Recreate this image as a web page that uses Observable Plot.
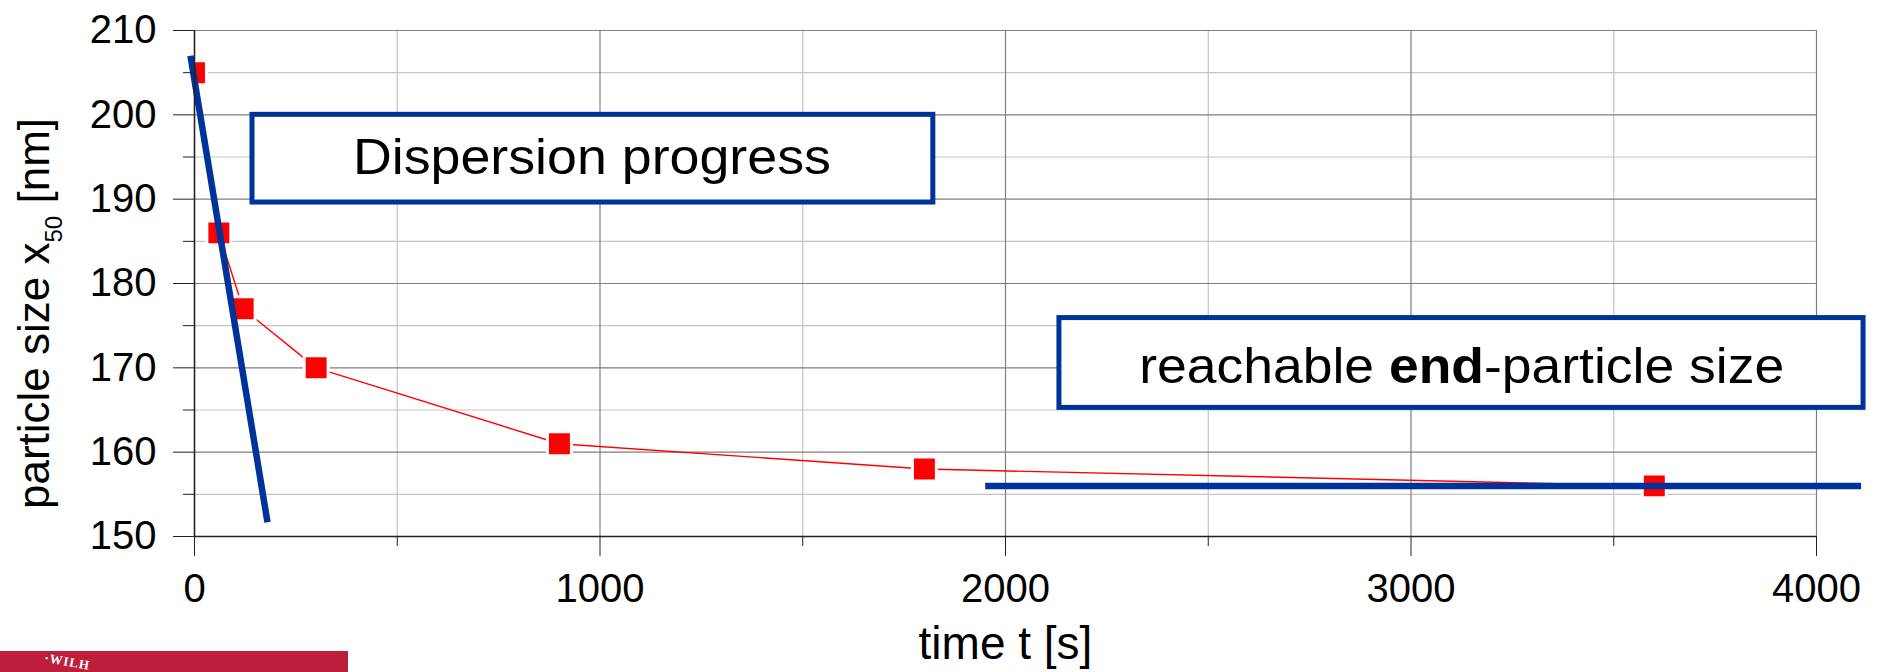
<!DOCTYPE html>
<html><head><meta charset="utf-8">
<script src="https://cdn.jsdelivr.net/npm/d3@7"></script>
<script src="https://cdn.jsdelivr.net/npm/@observablehq/plot@0.6"></script>
<style>
body{margin:0;background:#fff;}
#wrap{position:relative;width:1879px;height:672px;overflow:hidden;}
#logo{position:absolute;left:0;top:651px;width:348px;height:21px;background:#bc1e3c;overflow:hidden;}
#logo span{position:absolute;left:44px;top:3px;color:#fff;font:bold 13px "Liberation Serif",serif;letter-spacing:1px;transform:rotate(10deg);}
</style></head><body><div id="wrap"><div id="logo"><span>·WILH</span></div></div>
<script>
// measured series: dispersion time vs particle size
const time = [0, 60, 120, 300, 900, 1800, 3600];
const size = [205, 186, 177, 170, 161, 158, 156];
// trend lines drawn by hand in the original (data units)
const progressT = [-10, 180];
const progressY = [207, 151.7];
const endT = [1950, 4110];
const endY = [156, 156];
// tick values
const xTicks = [0, 1000, 2000, 3000, 4000];
const xMinor = [500, 1500, 2500, 3500];
const yTicks = [150, 160, 170, 180, 190, 200, 210];
const yMinor = [155, 165, 175, 185, 195, 205];
// annotation boxes (data units)
const boxLabels = ["Dispersion progress", "reachable end-particle size"];
const boxX1 = [143, 2133];
const boxX2 = [1822, 4116];
const boxY1 = [200, 175.9];
const boxY2 = [189.6, 165.25];
const labelX = [980, 3125];
const labelY = [194.9, 170.1];
const xLabel = "time t [s]";
const yLabel = "particle size x50 [nm]";

const points = time.map((t, i) => ({t, x50: size[i]}));
const progress = progressT.map((t, i) => ({t, x50: progressY[i]}));
const endLine = endT.map((t, i) => ({t, x50: endY[i]}));
const boxes = boxLabels.map((label, i) => ({label, x1: boxX1[i], x2: boxX2[i], y1: boxY1[i], y2: boxY2[i], tx: labelX[i], ty: labelY[i]}));

const BLUE = "#003399";
const chart = Plot.plot({
  width: 1879, height: 672,
  marginLeft: 194, marginRight: 63, marginTop: 30, marginBottom: 136,
  style: {fontFamily: "'Liberation Sans', Arial, sans-serif", fontSize: "40px", background: "white", color: "black", overflow: "visible"},
  x: {domain: [0, 4000]},
  y: {domain: [150, 210]},
  marks: [
    Plot.gridX(xMinor, {stroke: "#c4c4c4", strokeOpacity: 1, strokeWidth: 1.2}),
    Plot.gridY(yMinor, {stroke: "#c4c4c4", strokeOpacity: 1, strokeWidth: 1.2}),
    Plot.gridX(xTicks, {stroke: "#7f7f7f", strokeOpacity: 1, strokeWidth: 1.2}),
    Plot.gridY(yTicks, {stroke: "#7f7f7f", strokeOpacity: 1, strokeWidth: 1.2}),
    Plot.line(points, {x: "t", y: "x50", stroke: "#ff0000", strokeWidth: 1.4}),
    Plot.dot(points, {x: "t", y: "x50", symbol: "square", r: 13.5, fill: "#ff0000", stroke: "white", strokeWidth: 3, clip: true}),
    Plot.line(progress, {x: "t", y: "x50", stroke: BLUE, strokeWidth: 6.5, strokeLinecap: "butt", clip: false}),
    Plot.line(endLine, {x: "t", y: "x50", stroke: BLUE, strokeWidth: 6.5, strokeLinecap: "butt", clip: false}),
    Plot.rect(boxes, {x1: "x1", x2: "x2", y1: "y1", y2: "y2", fill: "white", stroke: BLUE, strokeWidth: 5, clip: false}),
    Plot.text(boxes, {x: "tx", y: "ty", text: "label", fontSize: 50, fill: "black", clip: false}),
    Plot.axisY(yTicks, {tickSize: 21, tickPadding: 17, fontSize: 40, stroke: "#222", fill: "black", label: null, tickFormat: d => String(d)}),
    Plot.axisY(yMinor, {tickSize: 11, tickFormat: () => "", stroke: "#222", label: null}),
    Plot.axisX(xTicks, {tickSize: 20, tickPadding: 17, fontSize: 40, stroke: "#222", fill: "black", label: null, tickFormat: d => String(d)}),
    Plot.axisX(xMinor, {tickSize: 10, tickFormat: () => "", stroke: "#222", label: null}),
    Plot.ruleX([0], {stroke: "#222", strokeWidth: 1.5}),
    Plot.ruleY([150], {stroke: "#222", strokeWidth: 1.5}),
    Plot.text([xLabel], {frameAnchor: "bottom", textAnchor: "middle", dy: 122, fontSize: 46, fill: "black"}),
    Plot.text([yLabel], {frameAnchor: "left", textAnchor: "middle", dx: -160, dy: 30, rotate: -90, fontSize: 44, fill: "black"})
  ]
});
document.getElementById("wrap").prepend(chart);

const svg = d3.select(chart);
svg.selectAll("text").each(function () {
  const el = d3.select(this);
  const t = this.textContent;
  if (t === yLabel) {
    el.text(null);
    el.append("tspan").text("particle size x");
    el.append("tspan").attr("font-size", 24).attr("dy", 13).text("50");
    el.append("tspan").attr("dy", -13).text(" [nm]");
  } else if (t === boxLabels[1]) {
    el.text(null);
    el.append("tspan").text("reachable ");
    el.append("tspan").attr("font-weight", "bold").text("end");
    el.append("tspan").text("-particle size");
    el.attr("textLength", 645).attr("lengthAdjust", "spacingAndGlyphs");
  } else if (t === boxLabels[0]) {
    el.attr("textLength", 478).attr("lengthAdjust", "spacingAndGlyphs");
  }
});
</script></body></html>
